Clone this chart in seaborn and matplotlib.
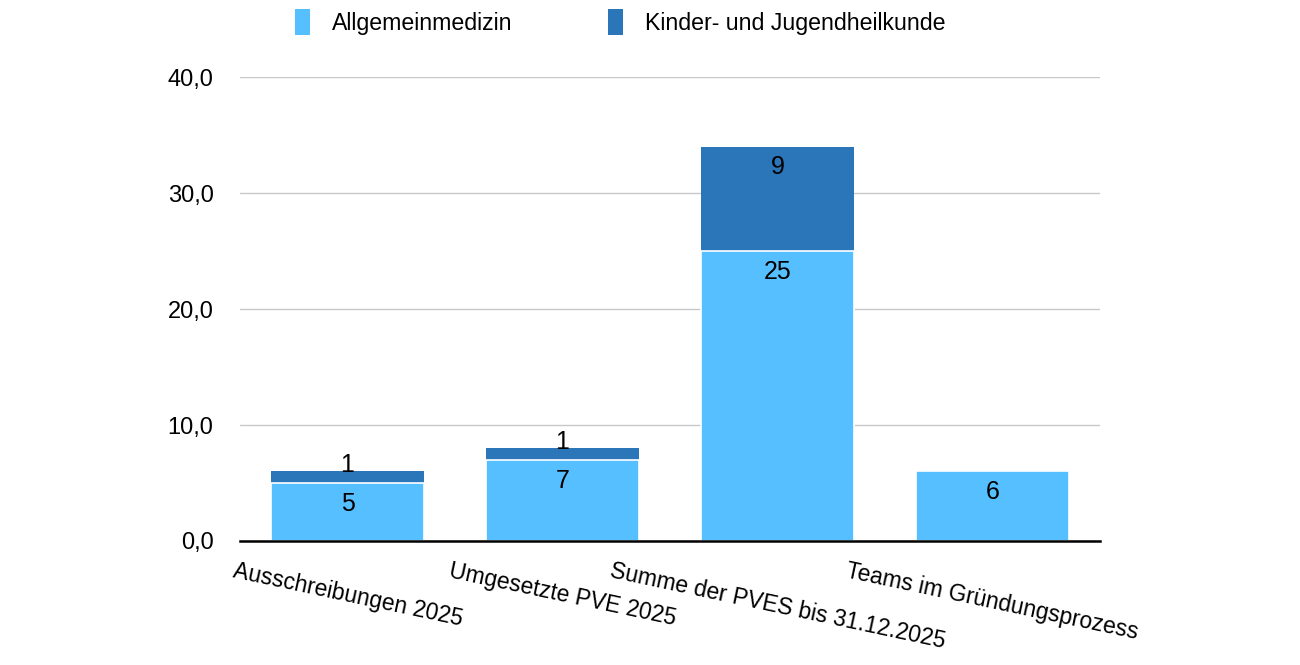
import matplotlib
matplotlib.use("Agg")
import matplotlib.pyplot as plt
import seaborn as sns
import pandas as pd
from matplotlib.patches import Patch
from matplotlib.ticker import FuncFormatter

categories = ["Ausschreibungen 2025", "Umgesetzte PVE 2025",
              "Summe der PVES bis 31.12.2025", "Teams im Gründungsprozess"]
allgemein = [5, 7, 25, 6]
kinder = [1, 1, 9, 0]
series_names = ["Allgemeinmedizin", "Kinder- und Jugendheilkunde"]
yticks = [0, 10, 20, 30, 40]

LIGHT = "#56BFFF"
DARK = "#2B75B9"

sns.set_theme(style="white")
plt.rcParams["font.family"] = ["Liberation Sans", "DejaVu Sans"]
plt.rcParams["text.color"] = "black"

df = pd.DataFrame({"cat": categories, "allg": allgemein, "kind": kinder})
df["total"] = df["allg"] + df["kind"]

fig = plt.figure(figsize=(13, 6.65), dpi=100)
ax = fig.add_axes([0.1846, 0.1865, 0.8462 - 0.1846, 0.884 - 0.1865])

sns.barplot(data=df, x="cat", y="total", color=DARK, width=0.71, ax=ax,
            saturation=1, linewidth=0)
sns.barplot(data=df, x="cat", y="allg", color=LIGHT, width=0.71, ax=ax,
            saturation=1, edgecolor="white", linewidth=1.2)

ax.set_ylim(0, 40)
ax.set_xlim(-0.5, len(categories) - 0.5)
ax.set_yticks(yticks)
ax.yaxis.set_major_formatter(FuncFormatter(lambda v, p: f"{v:.1f}".replace(".", ",")))
ax.yaxis.grid(True, color="#c8c8c8", linewidth=1)
ax.set_axisbelow(True)
for s in ["top", "right", "left"]:
    ax.spines[s].set_visible(False)
ax.spines["bottom"].set_color("black")
ax.spines["bottom"].set_linewidth(1.8)
ax.spines["bottom"].set_zorder(5)
ax.tick_params(axis="y", length=0, pad=19, labelsize=17, labelcolor="black")
ax.tick_params(axis="x", length=0, pad=13, labelsize=16.5, labelcolor="black")
ax.set_xlabel("")
ax.set_ylabel("")
ax.set_xticks(range(len(categories)))
ax.set_xticklabels(categories, rotation=-12, ha="center", va="top")

# value labels
for i, (a, k) in enumerate(zip(allgemein, kinder)):
    if a > 0:
        ax.annotate(str(a), (i, a), xytext=(0, -21), textcoords="offset pixels",
                    ha="center", va="center", fontsize=18, color="black")
    if k > 0:
        top = a + k
        off = -20 if k >= 3 else 6
        ax.annotate(str(k), (i, top), xytext=(0, off), textcoords="offset pixels",
                    ha="center", va="center", fontsize=18, color="black")

handles = [Patch(facecolor=LIGHT, edgecolor="none"), Patch(facecolor=DARK, edgecolor="none")]
leg = fig.legend(handles, series_names, loc="center", bbox_to_anchor=(0.477, 0.967),
                 ncol=2, frameon=False, fontsize=16.7, handlelength=0.65, handleheight=1.3,
                 handletextpad=0.95, columnspacing=4.1)
for t in leg.get_texts():
    t.set_color("black")

fig.savefig("out.png", dpi=100)
